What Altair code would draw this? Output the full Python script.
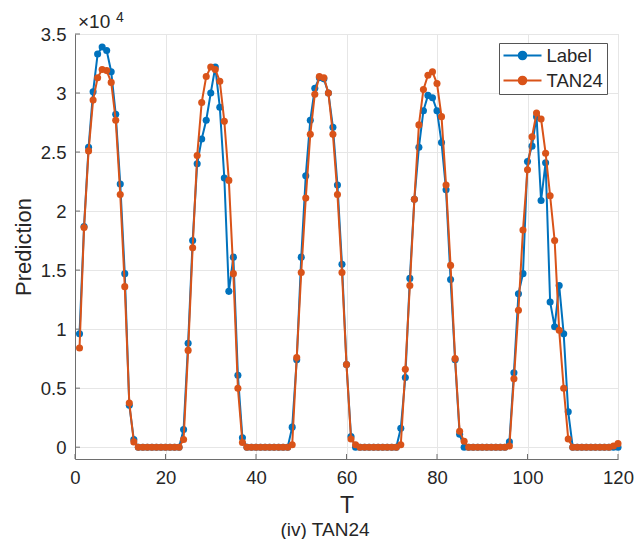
import altair as alt
import pandas as pd

# ---- data (values in units of 10^4) ----
T = list(range(1, 121))

label_vals = [
    0.96, 1.87, 2.54, 3.01, 3.33, 3.39, 3.36, 3.18, 2.82, 2.23,
    1.47, 0.355, 0.065, 0, 0, 0, 0, 0, 0, 0,
    0, 0, 0, 0.15, 0.88, 1.75, 2.40, 2.61, 2.77, 3.00,
    3.22, 2.88, 2.28, 1.32, 1.61, 0.61, 0.08, 0, 0, 0,
    0, 0, 0, 0, 0, 0, 0, 0.17, 0.74, 1.61,
    2.30, 2.77, 3.04, 3.13, 3.12, 3.00, 2.71, 2.22, 1.55, 0.70,
    0.09, 0, 0, 0, 0, 0, 0, 0, 0, 0,
    0, 0.16, 0.59, 1.43, 2.10, 2.54, 2.85, 2.98, 2.96, 2.85,
    2.58, 2.18, 1.42, 0.74, 0.11, 0, 0, 0, 0, 0,
    0, 0, 0, 0, 0, 0.045, 0.63, 1.30, 1.47, 2.42,
    2.55, 2.80, 2.09, 2.41, 1.23, 1.02, 1.37, 0.96, 0.30, 0,
    0, 0, 0, 0, 0, 0, 0, 0, 0, 0,
]

tan_vals = [
    0.84, 1.86, 2.51, 2.94, 3.13, 3.20, 3.19, 3.09, 2.77, 2.14,
    1.36, 0.375, 0.045, 0, 0, 0, 0, 0, 0, 0,
    0, 0, 0, 0.065, 0.82, 1.69, 2.47, 2.92, 3.14, 3.22,
    3.20, 3.10, 2.76, 2.26, 1.47, 0.50, 0.04, 0, 0, 0,
    0, 0, 0, 0, 0, 0, 0, 0.02, 0.76, 1.48,
    2.11, 2.65, 2.99, 3.14, 3.13, 3.00, 2.65, 2.14, 1.48, 0.70,
    0.07, 0.02, 0, 0, 0, 0, 0, 0, 0, 0,
    0, 0.02, 0.66, 1.37, 2.10, 2.73, 3.03, 3.15, 3.18, 3.08,
    2.80, 2.22, 1.54, 0.75, 0.135, 0.05, 0, 0, 0, 0,
    0, 0, 0, 0, 0, 0.01, 0.58, 1.16, 1.84, 2.35,
    2.63, 2.83, 2.78, 2.49, 2.13, 1.75, 0.99, 0.50, 0.07, 0,
    0, 0, 0, 0, 0, 0, 0, 0, 0.01, 0.03,
]

series_names = ["Label", "TAN24"]
series_colors = ["#0072BD", "#D95319"]
x_ticks = [0, 20, 40, 60, 80, 100, 120]
y_ticks = [0, 0.5, 1, 1.5, 2, 2.5, 3, 3.5]

df = pd.DataFrame({
    "T": T + T,
    "value": label_vals + tan_vals,
    "series": [series_names[0]] * len(T) + [series_names[1]] * len(T),
})

FONT = "Liberation Sans"
TXT = "#262626"

x_scale = alt.Scale(domain=[0, 120], nice=False)
y_scale = alt.Scale(domain=[-0.1, 3.5], nice=False, zero=False)

x_enc = alt.X("T:Q", scale=x_scale,
              axis=alt.Axis(values=x_ticks, title="T", labelFlush=False))
y_enc = alt.Y("value:Q", scale=y_scale,
              axis=alt.Axis(values=y_ticks, title="Prediction", format=".1~f"))

legend_symbol = (
    "M-1,0H1"
    "M-0.2,0a0.2,0.2 0 1,0 0.4,0a0.2,0.2 0 1,0 -0.4,0"
    "M-0.12,0a0.12,0.12 0 1,0 0.24,0a0.12,0.12 0 1,0 -0.24,0"
    "M-0.05,0a0.05,0.05 0 1,0 0.1,0a0.05,0.05 0 1,0 -0.1,0"
)

color_enc = alt.Color(
    "series:N",
    scale=alt.Scale(domain=series_names, range=series_colors),
    legend=alt.Legend(
        title=None, orient="none", legendX=424, legendY=9,
        strokeColor="#555555", fillColor="white", padding=3.5,
        labelFont=FONT, labelFontSize=18.5, labelColor=TXT,
        symbolType=legend_symbol, symbolSize=1444, symbolStrokeWidth=2,
        clipHeight=18, rowPadding=6, labelOffset=4,
    ),
)

layers = []
for name, col in zip(series_names, series_colors):
    base = alt.Chart(df).transform_filter(alt.datum.series == name)
    layers.append(base.mark_line(strokeWidth=2).encode(x=x_enc, y=y_enc, color=color_enc))
    layers.append(base.mark_circle(size=50, opacity=1).encode(x=x_enc, y=y_enc, color=alt.value(col)))

# inward tick marks (MATLAB style)
xt = alt.Chart(pd.DataFrame({"T": x_ticks})).mark_rule(color="#6e6e6e", strokeWidth=1).encode(
    x=alt.X("T:Q", scale=x_scale), y=alt.value(425), y2=alt.value(420))
yt = alt.Chart(pd.DataFrame({"value": y_ticks})).mark_rule(color="#6e6e6e", strokeWidth=1).encode(
    y=alt.Y("value:Q", scale=y_scale), x=alt.value(0), x2=alt.value(5))

exp_base = alt.Chart(pd.DataFrame({"t": ["×10"]})).mark_text(
    font=FONT, fontSize=19, align="left", baseline="alphabetic", color=TXT
).encode(text="t:N", x=alt.value(3), y=alt.value(-6))
exp_sup = alt.Chart(pd.DataFrame({"t": ["4"]})).mark_text(
    font=FONT, fontSize=14, align="left", baseline="alphabetic", color=TXT
).encode(text="t:N", x=alt.value(41), y=alt.value(-12))

sub_title = alt.Chart(pd.DataFrame({"t": ["(iv) TAN24"]})).mark_text(
    font=FONT, fontSize=19, align="center", baseline="alphabetic", color=TXT
).encode(text="t:N", x=alt.value(250), y=alt.value(502))

chart = alt.layer(*layers, xt, yt, exp_base, exp_sup, sub_title).properties(
    width=543, height=425,
    autosize=alt.AutoSizeParams(type="none"),
    padding={"left": 67, "top": 26, "right": 17, "bottom": 80},
).configure_axis(
    labelFont=FONT, labelFontSize=18.5, labelColor=TXT,
    titleFont=FONT, titleFontSize=22, titleFontWeight="normal", titleColor=TXT,
    domainColor="#6e6e6e", domainWidth=1, ticks=False,
    gridColor="#e6e6e6", gridWidth=1, labelPadding=9,
).configure_axisX(titlePadding=8, titleFontSize=23).configure_axisY(titlePadding=5).configure_view(
    stroke="#dcdcdc", strokeWidth=1
)

chart.save("out.html", embed_options={"renderer": "svg", "actions": False})
